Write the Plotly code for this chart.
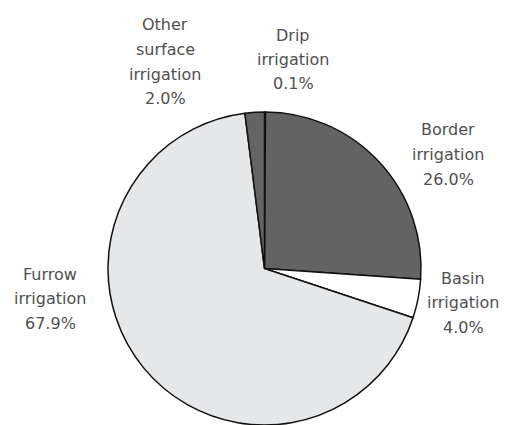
import plotly.graph_objects as go

labels = ["Drip irrigation", "Border irrigation", "Basin irrigation", "Furrow irrigation", "Other surface irrigation"]
values = [0.1, 26.0, 4.0, 67.9, 2.0]
colors = ["#636363", "#636363", "#ffffff", "#e6e7e9", "#636363"]

label_lines = {
    "Other surface irrigation": ["Other", "surface", "irrigation", "2.0%"],
    "Drip irrigation": ["Drip", "irrigation", "0.1%"],
    "Border irrigation": ["Border", "irrigation", "26.0%"],
    "Basin irrigation": ["Basin", "irrigation", "4.0%"],
    "Furrow irrigation": ["Furrow", "irrigation", "67.9%"],
}
label_pos = {  # (x center px, first line y px) in the window
    "Other surface irrigation": (165, 25),
    "Drip irrigation": (293, 35),
    "Border irrigation": (448, 130),
    "Basin irrigation": (463, 278),
    "Furrow irrigation": (50, 274),
}
OFF = 8          # default page body margin
W, H = 501, 417  # figure size so the page does not overflow the window
LINE = 24.5


def px(x):
    return (x - OFF) / W


def py(y):
    return 1 - (y - OFF) / H


fig = go.Figure(go.Pie(
    labels=labels, values=values, sort=False, direction="clockwise", rotation=0,
    marker=dict(colors=colors, line=dict(color="#111111", width=1.5)),
    textinfo="none", hoverinfo="label+percent", showlegend=False,
    domain=dict(x=[px(108), px(421)], y=[0, py(112)]),
))

anns = []
for name, lines in label_lines.items():
    cx, cy = label_pos[name]
    for i, t in enumerate(lines):
        anns.append(dict(x=px(cx), y=py(cy + i * LINE), xref="paper", yref="paper",
                         text=t, showarrow=False, xanchor="center", yanchor="middle",
                         font=dict(family="DejaVu Sans", size=16, color="#505050")))

fig.update_layout(width=W, height=H, margin=dict(l=0, r=0, t=0, b=0),
                  paper_bgcolor="white", plot_bgcolor="white", annotations=anns)
fig.write_html("out.html")
